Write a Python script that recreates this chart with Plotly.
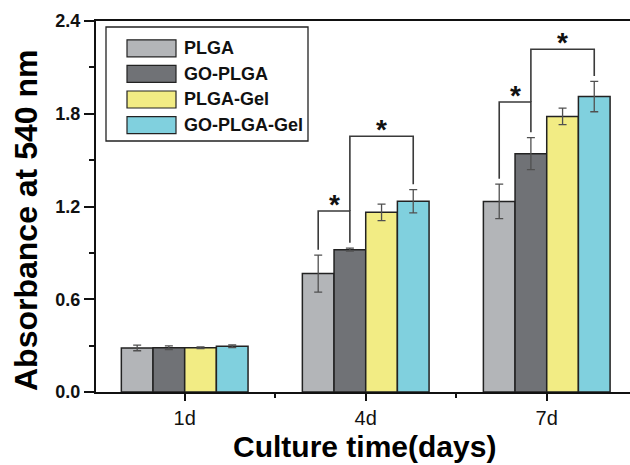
import plotly.graph_objects as go

# ---------------- data ----------------
days = ["1d", "4d", "7d"]
series_names = ["PLGA", "GO-PLGA", "PLGA-Gel", "GO-PLGA-Gel"]
plga = [0.285, 0.766, 1.233]
plga_err = [0.018, 0.120, 0.112]
go_plga = [0.287, 0.921, 1.542]
go_plga_err = [0.012, 0.010, 0.103]
plga_gel = [0.286, 1.162, 1.783]
plga_gel_err = [0.005, 0.054, 0.053]
go_plga_gel = [0.296, 1.234, 1.911]
go_plga_gel_err = [0.008, 0.075, 0.098]
y_ticks = [0.0, 0.6, 1.2, 1.8, 2.4]
# significance brackets: (day index, bar a, bar b, bracket level)
sig_pairs = [(1, 0, 1, 1.171), (1, 1, 3, 1.654), (2, 0, 1, 1.876), (2, 1, 3, 2.217)]

# ---------------- style ----------------
colors = ["#b3b5b8", "#707276", "#f2ec84", "#80d0de"]
values = [plga, go_plga, plga_gel, go_plga_gel]
errors = [plga_err, go_plga_err, plga_gel_err, go_plga_gel_err]

W, H = 630, 465
ML, MR, MT, MB = 96, 0, 21, 73
PW, PH = W - ML - MR, H - MT - MB
XR = [-0.49, 2.46]
YR = [0, 2.4]
GROUP_W = 0.7
BAR_W = GROUP_W / len(series_names)

def px_to_paper_x(px):
    return (px - ML) / PW

def px_to_paper_y(py):
    return (H - MB - py) / PH

FONT = "Liberation Sans, Arial, sans-serif"

fig = go.Figure()
xs = list(range(len(days)))
for k, name in enumerate(series_names):
    fig.add_trace(go.Bar(
        x=xs, y=values[k], name=name,
        marker=dict(color=colors[k], line=dict(color="#222222", width=1.5)),
        error_y=dict(type="data", array=errors[k], color="#505050",
                     thickness=1.3, width=4),
        showlegend=False,
    ))

shapes = []
annotations = []

# significance brackets computed from bar positions and error tops
def bar_x(day, k):
    return day - GROUP_W / 2 + BAR_W * (k + 0.5)

gap = 0.035
for (d, a, b, lvl) in sig_pairs:
    xa, xb = bar_x(d, a), bar_x(d, b)
    bottoms = []
    for k in (a, b):
        bot = values[k][d] + errors[k][d] + gap
        for (d2, a2, b2, l2) in sig_pairs:
            if d2 == d and l2 < lvl and k in (a2, b2):
                bot = max(bot, l2)
        bottoms.append(bot)
    path = f"M{xa},{bottoms[0]} L{xa},{lvl} L{xb},{lvl} L{xb},{bottoms[1]}"
    shapes.append(dict(type="path", path=path, xref="x", yref="y",
                       line=dict(color="#3a3a3a", width=1.6)))
    annotations.append(dict(x=(xa + xb) / 2, y=lvl, xref="x", yref="y",
                            text="*", showarrow=False, yanchor="bottom",
                            yshift=-11,
                            font=dict(family=FONT, size=28, color="#111111",
                                      weight="bold")))

# manual legend (box + long swatches), built from series names/colors
lx0, lx1, ly0, ly1 = 106, 308, 27, 141
shapes.append(dict(type="rect", xref="paper", yref="paper",
                   x0=px_to_paper_x(lx0), x1=px_to_paper_x(lx1),
                   y0=px_to_paper_y(ly1), y1=px_to_paper_y(ly0),
                   line=dict(color="#222222", width=1.3), fillcolor="white"))
row0, row_step = 48.3, 25.6
for k, name in enumerate(series_names):
    cy = row0 + k * row_step
    shapes.append(dict(type="rect", xref="paper", yref="paper",
                       x0=px_to_paper_x(127), x1=px_to_paper_x(176),
                       y0=px_to_paper_y(cy + 8.5), y1=px_to_paper_y(cy - 8.5),
                       line=dict(color="#222222", width=1.2),
                       fillcolor=colors[k]))
    annotations.append(dict(x=px_to_paper_x(182), y=px_to_paper_y(cy),
                            xref="paper", yref="paper", text=name,
                            showarrow=False, xanchor="left", yanchor="middle",
                            font=dict(family=FONT, size=18, color="#111111",
                                      weight="bold")))

# axis titles
annotations.append(dict(x=px_to_paper_x(26), y=px_to_paper_y(221),
                        xref="paper", yref="paper", text="Absorbance at 540 nm",
                        textangle=-90, showarrow=False,
                        xanchor="center", yanchor="middle",
                        font=dict(family=FONT, size=32, color="#000000",
                                  weight="bold")))
annotations.append(dict(x=px_to_paper_x(364), y=px_to_paper_y(446),
                        xref="paper", yref="paper", text="Culture time(days)",
                        showarrow=False, xanchor="center", yanchor="middle",
                        font=dict(family=FONT, size=30, color="#000000",
                                  weight="bold")))

fig.update_layout(
    width=W, height=H,
    margin=dict(l=ML, r=MR, t=MT, b=MB, pad=0),
    paper_bgcolor="white", plot_bgcolor="white",
    barmode="group", bargap=1 - GROUP_W, bargroupgap=0,
    shapes=shapes, annotations=annotations,
    xaxis=dict(range=XR, tickmode="array", tickvals=xs, ticktext=days,
               showgrid=False, zeroline=False,
               showline=True, linecolor="#111111", linewidth=2, mirror=True,
               ticks="outside", ticklen=7, tickwidth=2, tickcolor="#111111",
               tickfont=dict(family=FONT, size=20, color="#111111"),
               minor=dict(tickmode="array",
                          tickvals=[i + 0.5 for i in range(len(days) - 1)],
                          ticks="outside", ticklen=4, tickwidth=2,
                          tickcolor="#111111")),
    yaxis=dict(range=YR, tickmode="array", tickvals=y_ticks,
               ticktext=[f"{v:.1f}" for v in y_ticks],
               showgrid=False, zeroline=False,
               showline=True, linecolor="#111111", linewidth=2,
               ticks="outside", ticklen=10, tickwidth=1.5, tickcolor="#111111",
               tickfont=dict(family=FONT, size=18, color="#111111",
                             weight="bold"),
               minor=dict(dtick=0.3, tick0=0, ticks="outside", ticklen=5,
                          tickwidth=1.5, tickcolor="#111111")),
)

fig.write_html("out.html",
               config={"displayModeBar": False},
               post_script="document.body.style.margin='0';"
                           "document.body.style.padding='0';")
